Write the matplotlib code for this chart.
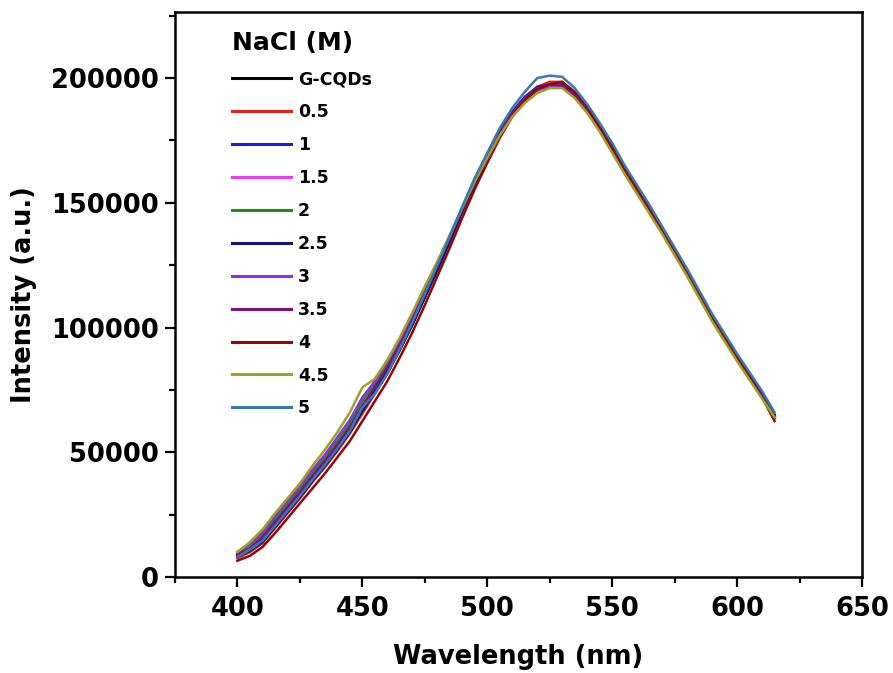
import matplotlib
matplotlib.use("Agg")
import matplotlib.pyplot as plt
from matplotlib.ticker import MultipleLocator

# wavelength grid (nm) and intensities (x1000 a.u.)
wavelength = list(range(400, 616, 5))

g_cqds = [8.5, 11, 15, 21, 27, 33, 39.5, 45.5, 52, 59,
          67, 75, 83, 92, 102, 113, 124, 135, 147, 158,
          168, 178, 186, 192, 196, 197.5, 197, 193, 187.5, 180,
          171.5, 163, 155, 147, 139, 130.5, 122, 113, 104, 96,
          88, 80.5, 73, 64.5]
nacl_0_5 = [7.5, 10, 13.5, 19.5, 25.5, 31.5, 38, 44, 50.5, 57.5,
            65.5, 73.5, 81.5, 91, 101, 112, 123, 134.5, 146.5, 157.5,
            168, 178, 186, 192, 196.5, 198.5, 198.5, 193.5, 187, 180.5,
            171, 163.5, 154.5, 147.5, 138.5, 131, 121.5, 113.5, 103.5, 96.5,
            87.5, 80, 72.5, 63.5]
nacl_1 = [9, 12, 15.5, 22, 28, 34, 40.5, 46.5, 53, 60,
          68.5, 75.5, 83.5, 92.5, 102.5, 113.5, 124.5, 135.5, 147.5, 158.5,
          168.5, 178.5, 186.5, 192.5, 196.5, 197.5, 197.5, 193.5, 188.5, 181,
          172, 164, 155.5, 147.5, 139.5, 131, 122.5, 113.5, 104.5, 96.5,
          88.5, 81, 73.5, 65]
nacl_1_5 = [9.5, 12.5, 17, 23, 29, 35, 41.5, 47.5, 54, 61,
            70, 77, 85, 93.5, 103.5, 114.5, 125, 136, 147.5, 158.5,
            168, 177.5, 185.5, 191.5, 195.5, 197, 196.5, 192.5, 187, 179.5,
            171, 162.5, 154.5, 146.5, 138.5, 130, 121.5, 112.5, 103.5, 95.5,
            87.5, 80, 72.5, 64]
nacl_2 = [9.5, 13, 17.5, 23.5, 29.5, 35.5, 42, 48, 54.5, 61.5,
          70.5, 77.5, 85.5, 94, 104, 115, 125.5, 136.5, 148, 159,
          168.5, 178, 185.5, 191.5, 195.5, 196.5, 196.5, 192.5, 187, 179.5,
          171, 162.5, 154.5, 146.5, 138.5, 130, 121.5, 112.5, 103.5, 95.5,
          87.5, 80, 72.5, 64.5]
nacl_2_5 = [8, 10.5, 14, 20, 26, 32, 38.5, 44.5, 51, 58,
            66.5, 74, 82, 91, 101, 112, 123, 134.5, 146.5, 157.5,
            167.5, 177.5, 185.5, 191.5, 195.5, 197, 197, 193, 188, 180.5,
            172.5, 163.5, 155.5, 147.5, 139.5, 131, 122.5, 113.5, 104.5, 96.5,
            88.5, 81, 73.5, 65]
nacl_3 = [10, 13.5, 18, 24.5, 30.5, 36.5, 43, 49, 56, 63,
          72, 78.5, 86.5, 95, 105, 115.5, 126, 137, 148, 159,
          168.5, 178, 185.5, 191, 195, 196.5, 196.5, 192.5, 186.5, 179,
          170.5, 162, 154, 146, 138, 129.5, 121, 112, 103, 95,
          87, 79.5, 72, 64]
nacl_3_5 = [9, 11.5, 16, 22, 28, 34, 40.5, 46.5, 53, 60,
            68.5, 76, 84, 93, 103, 114, 125, 136, 147.5, 158.5,
            168.5, 178, 186, 192, 196, 197.5, 197, 193, 187, 179.5,
            171, 162.5, 154.5, 146.5, 138.5, 130, 121.5, 112.5, 103.5, 95.5,
            87.5, 80, 72.5, 64]
nacl_4 = [6.5, 8.5, 12, 17.5, 23.5, 29.5, 35.5, 41.5, 48, 54.5,
          62.5, 70.5, 78.5, 88, 98, 109, 120.5, 132, 144, 155.5,
          166, 176, 184.5, 191, 195.5, 197.5, 198.5, 194.5, 188.5, 180.5,
          172, 163.5, 155.5, 147.5, 139.5, 131, 122.5, 113.5, 104, 96,
          88, 80, 72, 62.5]
nacl_4_5 = [10, 14, 19, 25.5, 31.5, 37.5, 44.5, 51, 58, 66,
            76, 79.5, 87, 96, 106, 116.5, 126.5, 137, 148, 158.5,
            168, 177, 184.5, 190, 194, 196, 196, 192, 186, 178.5,
            170, 161.5, 153.5, 145.5, 137.5, 129, 120.5, 111.5, 102.5, 94.5,
            86.5, 79, 71.5, 64]
nacl_5 = [8, 11, 14.5, 20.5, 26.5, 32.5, 39, 45, 51.5, 58.5,
          68, 73.5, 81.5, 91.5, 102, 113.5, 125, 136.5, 148.5, 160,
          170, 180, 188, 194.5, 200, 201, 200.5, 196, 189.5, 182,
          174, 165, 157, 149, 140.5, 132, 123.5, 114.5, 105.5, 97.5,
          89.5, 82, 74.5, 66]

labels = ['G-CQDs', '0.5', '1', '1.5', '2', '2.5', '3', '3.5', '4', '4.5', '5']
series = [g_cqds, nacl_0_5, nacl_1, nacl_1_5, nacl_2, nacl_2_5,
          nacl_3, nacl_3_5, nacl_4, nacl_4_5, nacl_5]
colours = ['#000000', '#e0201c', '#1c1ce0', '#f03cf0', '#1e8c1e', '#14146e',
           '#8c32e6', '#7a1478', '#8c0a0a', '#a0a028', '#3a78b0']

plt.rcParams['font.family'] = 'DejaVu Sans'
plt.rcParams['font.weight'] = 'bold'

fig = plt.figure(figsize=(8.93, 6.73), dpi=100)
ax = fig.add_axes([175 / 893, 96 / 673, 687 / 893, 565 / 673])

for ys, lab, col in zip(series, labels, colours):
    ax.plot(wavelength, [v * 1000 for v in ys], color=col, lw=1.8, label=lab)

ax.set_xlim(375, 650)
ax.set_ylim(0, 226500)
ax.xaxis.set_major_locator(MultipleLocator(50))
ax.xaxis.set_minor_locator(MultipleLocator(25))
ax.yaxis.set_major_locator(MultipleLocator(50000))
ax.yaxis.set_minor_locator(MultipleLocator(25000))
ax.ticklabel_format(axis='y', style='plain', useOffset=False)

ax.tick_params(which='major', direction='out', length=7.5, width=1.6,
               labelsize=18.5, top=False, right=False)
ax.tick_params(axis='x', which='major', pad=6)
ax.tick_params(axis='y', which='major', pad=4)
ax.tick_params(which='minor', direction='out', length=4.5, width=1.6,
               top=False, right=False)
for s in ax.spines.values():
    s.set_linewidth(1.8)

ax.set_xlabel('Wavelength (nm)', fontsize=18.5, fontweight='bold', labelpad=16)
ax.set_ylabel('Intensity (a.u.)', fontsize=18.5, fontweight='bold', labelpad=10)

leg = ax.legend(loc='upper left', bbox_to_anchor=(0.083, 0.966), frameon=False,
                title='NaCl (M)', title_fontproperties={'size': 18, 'weight': 'bold'},
                alignment='left', prop={'size': 12.5, 'weight': 'bold'},
                handlelength=3.4, handletextpad=0.4, labelspacing=0.86,
                borderpad=0, borderaxespad=0)
for line in leg.get_lines():
    line.set_linewidth(2.2)

fig.savefig('out.png', dpi=100)
